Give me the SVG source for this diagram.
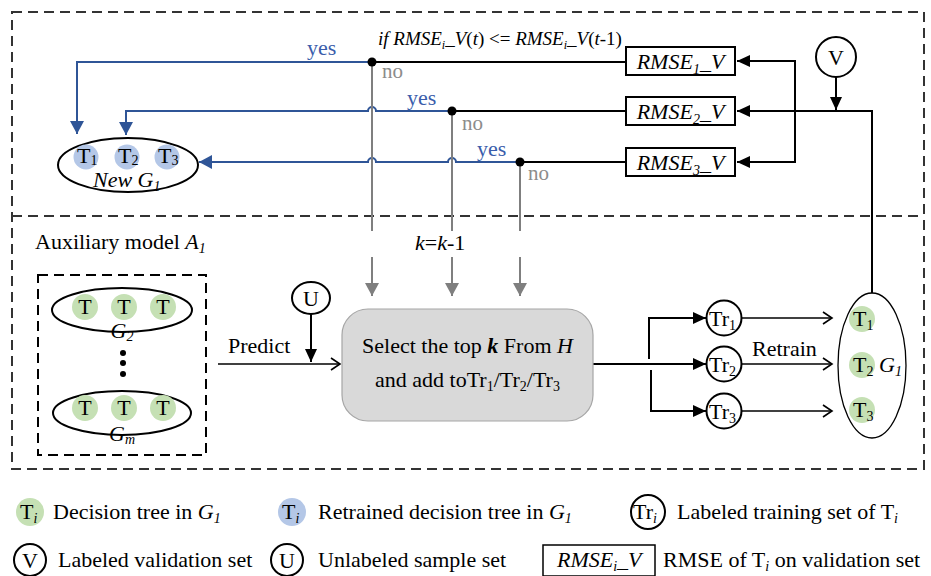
<svg xmlns="http://www.w3.org/2000/svg" width="931" height="576" viewBox="0 0 931 576" font-family="'Liberation Serif', 'Times New Roman', serif">
  <defs>
    <marker id="ahBlack" markerUnits="userSpaceOnUse" markerWidth="14" markerHeight="12" refX="13" refY="6" orient="auto">
      <path d="M0,0 L13,6 L0,12 z" fill="#000"/>
    </marker>
    <marker id="ahBlue" markerUnits="userSpaceOnUse" markerWidth="14" markerHeight="14" refX="13" refY="7" orient="auto">
      <path d="M0,0 L13,7 L0,14 z" fill="#2f5597"/>
    </marker>
    <marker id="ahGrey" markerUnits="userSpaceOnUse" markerWidth="14" markerHeight="14" refX="13" refY="7" orient="auto">
      <path d="M0,0 L13,7 L0,14 z" fill="#7f7f7f"/>
    </marker>
    <marker id="ahOpen" markerUnits="userSpaceOnUse" markerWidth="12" markerHeight="14" refX="10" refY="7" orient="auto">
      <path d="M1,1 L10,7 L1,13" fill="none" stroke="#000" stroke-width="1.6"/>
    </marker>
  </defs>
  <style>
    text { font-family: "Liberation Serif", "Times New Roman", serif; font-size: 22px; fill: #000; }
    .it { font-style: italic; }
    .sub { font-size: 14px; }
    .yes { fill: #3a5dab; }
    .no { fill: #8c8c8c; font-size: 21px; }
    .ln { fill: none; stroke: #000; stroke-width: 2; }
    .thin { fill: none; stroke: #000; stroke-width: 1.5; }
    .lnB { fill: none; stroke: #2f5597; stroke-width: 2; }
    .lnG { fill: none; stroke: #7f7f7f; stroke-width: 2; }
    .dash { fill: none; stroke: #333; stroke-width: 2; stroke-dasharray: 10 6; }
    .green { fill: #c5e0b4; }
    .bluec { fill: #b4c7e7; }
    .ring { fill: #fff; stroke: #000; stroke-width: 2; }
    .box { fill: #fff; stroke: #000; stroke-width: 2; }
  </style>

  <rect width="931" height="576" fill="#fff"/>

  <!-- frames -->
  <g id="frames">
    <rect x="12" y="12" width="912" height="457" class="dash"/>
    <line x1="12" y1="216" x2="924" y2="216" class="dash"/>
  </g>

  <!-- connectors -->
  <g id="connectors">
    <!-- "yes" branches back to the new group -->
    <path class="lnB" d="M372,62 H77 V134" marker-end="url(#ahBlue)"/>
    <path class="lnB" d="M452,111 H376 A4,4 0 0 0 368,111 H126 V135" marker-end="url(#ahBlue)"/>
    <path class="lnB" d="M520,162 H456 A4,4 0 0 0 448,162 H376 A4,4 0 0 0 368,162 H199" marker-end="url(#ahBlue)"/>
    <!-- comparisons fed by the RMSE boxes -->
    <path class="ln" d="M372,62 H626"/>
    <path class="ln" d="M452,111 H626"/>
    <path class="ln" d="M520,162 H626"/>
    <!-- retrained group to RMSE boxes -->
    <path class="ln" d="M872,293 V111 H737" marker-end="url(#ahBlack)"/>
    <path class="ln" d="M795,111 V61 H737" marker-end="url(#ahBlack)"/>
    <path class="ln" d="M795,111 V162 H737" marker-end="url(#ahBlack)"/>
    <path class="ln" d="M836,77 V110" marker-end="url(#ahBlack)"/>
    <!-- "no" branches -->
    <path class="lnG" d="M372,62 V231"/>
    <path class="lnG" d="M452,111 V231"/>
    <path class="lnG" d="M520,162 V231"/>
    <path class="lnG" d="M372,257 V296" marker-end="url(#ahGrey)"/>
    <path class="lnG" d="M452,257 V296" marker-end="url(#ahGrey)"/>
    <path class="lnG" d="M520,257 V296" marker-end="url(#ahGrey)"/>
    <!-- predict -->
    <path class="thin" d="M218,364 H340" marker-end="url(#ahOpen)"/>
    <path class="ln" d="M311,313 V362" marker-end="url(#ahBlack)"/>
    <!-- selection to training sets -->
    <path class="ln" d="M593,364 H706" marker-end="url(#ahBlack)"/>
    <path class="ln" d="M649,359 V318 H706" marker-end="url(#ahBlack)"/>
    <path class="ln" d="M651,370 V411 H706" marker-end="url(#ahBlack)"/>
    <!-- retrain -->
    <path class="thin" d="M742,318 H832" marker-end="url(#ahOpen)"/>
    <path class="thin" d="M742,364 H832" marker-end="url(#ahOpen)"/>
    <path class="thin" d="M742,411 H832" marker-end="url(#ahOpen)"/>
    <!-- junction dots -->
    <circle cx="372" cy="62" r="4.5" fill="#000"/>
    <circle cx="452" cy="111" r="4.5" fill="#000"/>
    <circle cx="520" cy="162" r="4.5" fill="#000"/>
  </g>

  <!-- connector labels -->
  <g id="labels">
    <text x="378" y="45" style="font-size:19px"><tspan class="it">if RMSE</tspan><tspan class="it" style="font-size:12px" dy="4">i</tspan><tspan class="it" dy="-4">_V</tspan>(<tspan class="it">t</tspan>) &lt;= <tspan class="it">RMSE</tspan><tspan class="it" style="font-size:12px" dy="4">i</tspan><tspan class="it" dy="-4">_V</tspan>(<tspan class="it">t</tspan>-1)</text>
    <text x="307" y="55" class="yes">yes</text>
    <text x="407" y="105" class="yes">yes</text>
    <text x="477" y="156" class="yes">yes</text>
    <text x="382" y="78" class="no">no</text>
    <text x="462" y="130" class="no">no</text>
    <text x="528" y="180" class="no">no</text>
    <text x="415" y="250"><tspan class="it">k</tspan>=<tspan class="it">k</tspan>-1</text>
    <text x="228" y="353">Predict</text>
    <text x="752" y="356">Retrain</text>
  </g>

  <!-- RMSE boxes -->
  <g id="rmse1">
    <rect x="626" y="47" width="109" height="28" class="box"/>
    <text x="680.5" y="69" text-anchor="middle" class="it">RMSE<tspan class="sub" dy="5">1</tspan><tspan dy="-5">_V</tspan></text>
  </g>
  <g id="rmse2">
    <rect x="626" y="97" width="109" height="28" class="box"/>
    <text x="680.5" y="119" text-anchor="middle" class="it">RMSE<tspan class="sub" dy="5">2</tspan><tspan dy="-5">_V</tspan></text>
  </g>
  <g id="rmse3">
    <rect x="626" y="148" width="109" height="28" class="box"/>
    <text x="680.5" y="170" text-anchor="middle" class="it">RMSE<tspan class="sub" dy="5">3</tspan><tspan dy="-5">_V</tspan></text>
  </g>

  <!-- validation set -->
  <g id="v">
    <circle cx="836" cy="57" r="20" class="ring"/>
    <text x="836" y="65" text-anchor="middle">V</text>
  </g>

  <!-- new group -->
  <g id="newG1">
    <ellipse cx="128" cy="165" rx="70" ry="27" class="ring"/>
    <circle cx="86" cy="157" r="12.5" class="bluec"/>
    <circle cx="127" cy="157" r="12.5" class="bluec"/>
    <circle cx="167" cy="157" r="12.5" class="bluec"/>
    <text x="77" y="163">T<tspan class="sub" dy="2">1</tspan></text>
    <text x="118" y="163">T<tspan class="sub" dy="2">2</tspan></text>
    <text x="158" y="163">T<tspan class="sub" dy="2">3</tspan></text>
    <text x="93" y="187" class="it">New G<tspan class="sub" dy="4">1</tspan></text>
  </g>

  <!-- auxiliary model -->
  <g id="aux">
    <text x="35" y="249">Auxiliary model <tspan class="it">A</tspan><tspan class="it sub" dy="4">1</tspan></text>
    <rect x="38" y="275" width="168" height="180" class="dash" style="stroke:#000"/>
    <g id="g2">
      <ellipse cx="122" cy="310" rx="70" ry="22" class="ring"/>
      <circle cx="85" cy="307" r="13" class="green"/>
      <circle cx="124" cy="307" r="13" class="green"/>
      <circle cx="163" cy="307" r="13" class="green"/>
      <text x="85" y="314" text-anchor="middle">T</text>
      <text x="124" y="314" text-anchor="middle">T</text>
      <text x="163" y="314" text-anchor="middle">T</text>
      <text x="122" y="338" text-anchor="middle" class="it">G<tspan class="sub" dy="3">2</tspan></text>
    </g>
    <circle cx="123" cy="353" r="3" fill="#000"/>
    <circle cx="123" cy="363" r="3" fill="#000"/>
    <circle cx="123" cy="374" r="3" fill="#000"/>
    <g id="gm">
      <ellipse cx="122" cy="413" rx="69" ry="22" class="ring"/>
      <circle cx="85" cy="408" r="13" class="green"/>
      <circle cx="124" cy="408" r="13" class="green"/>
      <circle cx="163" cy="408" r="13" class="green"/>
      <text x="85" y="415" text-anchor="middle">T</text>
      <text x="124" y="415" text-anchor="middle">T</text>
      <text x="163" y="415" text-anchor="middle">T</text>
      <text x="122" y="441" text-anchor="middle" class="it">G<tspan class="sub" dy="3">m</tspan></text>
    </g>
  </g>

  <!-- unlabeled samples -->
  <g id="u">
    <ellipse cx="311" cy="298" rx="19" ry="16" class="ring"/>
    <text x="311" y="306" text-anchor="middle">U</text>
  </g>

  <!-- selection step -->
  <g id="select">
    <rect x="342" y="309" width="251" height="112" rx="26" fill="#d9d9d9" stroke="#a6a6a6" stroke-width="1.2"/>
    <text x="467.5" y="353" text-anchor="middle">Select the top <tspan class="it" font-weight="bold">k</tspan> From <tspan class="it">H</tspan></text>
    <text x="467.5" y="387" text-anchor="middle">and add toTr<tspan class="sub" dy="4">1</tspan><tspan dy="-4">/Tr</tspan><tspan class="sub" dy="4">2</tspan><tspan dy="-4">/Tr</tspan><tspan class="sub" dy="4">3</tspan></text>
  </g>

  <!-- training sets -->
  <g id="tr1">
    <circle cx="724" cy="318" r="17.5" class="ring"/>
    <text x="709" y="326">Tr<tspan class="sub" dy="4">1</tspan></text>
  </g>
  <g id="tr2">
    <circle cx="724" cy="364" r="17.5" class="ring"/>
    <text x="709" y="372">Tr<tspan class="sub" dy="4">2</tspan></text>
  </g>
  <g id="tr3">
    <circle cx="724" cy="411" r="17.5" class="ring"/>
    <text x="709" y="419">Tr<tspan class="sub" dy="4">3</tspan></text>
  </g>

  <!-- group G1 -->
  <g id="g1">
    <ellipse cx="872" cy="365.5" rx="34" ry="72.5" fill="#fff" stroke="#000" stroke-width="1.3"/>
    <circle cx="862" cy="319" r="13" class="green"/>
    <circle cx="862" cy="365" r="13" class="green"/>
    <circle cx="862" cy="410" r="13" class="green"/>
    <text x="853" y="326">T<tspan class="sub" dy="4">1</tspan></text>
    <text x="853" y="372">T<tspan class="sub" dy="4">2</tspan></text>
    <text x="853" y="417">T<tspan class="sub" dy="4">3</tspan></text>
    <text x="879" y="372" class="it">G<tspan class="sub" dy="4">1</tspan></text>
  </g>

  <!-- legend -->
  <g id="legend">
    <circle cx="30" cy="512" r="14" class="green"/>
    <text x="20" y="519">T<tspan class="it sub" dy="4">i</tspan></text>
    <text x="53" y="519">Decision tree in <tspan class="it">G</tspan><tspan class="it sub" dy="4">1</tspan></text>

    <circle cx="292" cy="512" r="14" class="bluec"/>
    <text x="282" y="519">T<tspan class="it sub" dy="4">i</tspan></text>
    <text x="318" y="519">Retrained decision tree in <tspan class="it">G</tspan><tspan class="it sub" dy="4">1</tspan></text>

    <circle cx="648" cy="512" r="17" class="ring"/>
    <text x="633" y="519">Tr<tspan class="it sub" dy="4">i</tspan></text>
    <text x="677" y="519">Labeled training set of T<tspan class="it sub" dy="4">i</tspan></text>

    <circle cx="30" cy="560" r="16" class="ring"/>
    <text x="30" y="568" text-anchor="middle">V</text>
    <text x="58" y="567">Labeled validation set</text>

    <circle cx="287" cy="560" r="16" class="ring"/>
    <text x="287" y="568" text-anchor="middle">U</text>
    <text x="318" y="567">Unlabeled sample set</text>

    <rect x="543" y="545" width="112" height="31" class="box" style="stroke-width:1.5"/>
    <text x="557" y="567" class="it">RMSE<tspan class="sub" dy="4">i</tspan><tspan dy="-4">_V</tspan></text>
    <text x="663" y="567">RMSE of T<tspan class="it sub" dy="4">i</tspan><tspan dy="-4"> on validation set</tspan></text>
  </g>
</svg>
